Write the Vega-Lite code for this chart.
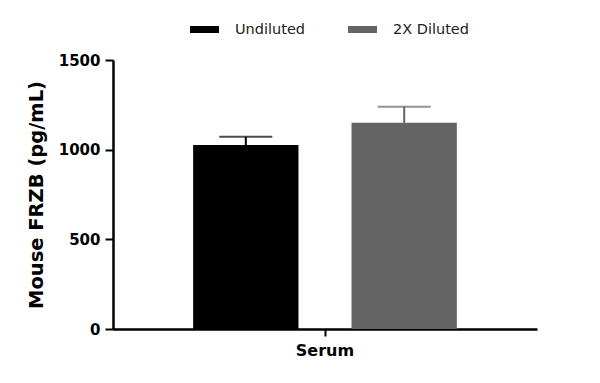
{
  "$schema": "https://vega.github.io/schema/vega-lite/v6.json",
  "width": 424,
  "height": 269,
  "autosize": "none",
  "padding": {"left": 113, "top": 60, "right": 63, "bottom": 54},
  "background": "white",
  "config": {
    "view": {"stroke": null},
    "font": "DejaVu Sans"
  },
  "data": {
    "values": [
      {"sample": "Serum", "group": "Undiluted", "value": 1026, "upper": 1072},
      {"sample": "Serum", "group": "2X Diluted", "value": 1150, "upper": 1240}
    ]
  },
  "encoding": {
    "x": {
      "field": "sample",
      "type": "nominal",
      "scale": {"paddingInner": 0, "paddingOuter": 0},
      "axis": {
        "title": null,
        "labelAngle": 0,
        "labelFont": "DejaVu Sans",
        "labelFontWeight": "bold",
        "labelFontSize": 16,
        "labelColor": "#000",
        "labelPadding": 6,
        "tickSize": 7,
        "tickWidth": 2,
        "tickColor": "#000",
        "domainColor": "#000",
        "domainWidth": 2.5
      }
    },
    "xOffset": {
      "field": "group",
      "type": "nominal",
      "sort": ["Undiluted", "2X Diluted"],
      "scale": {"paddingInner": 0.335, "paddingOuter": 0.506}
    },
    "color": {
      "field": "group",
      "type": "nominal",
      "sort": ["Undiluted", "2X Diluted"],
      "scale": {"domain": ["Undiluted", "2X Diluted"], "range": ["#000000", "#646464"]},
      "legend": {
        "title": null,
        "orient": "none",
        "direction": "horizontal",
        "legendX": 77,
        "legendY": -45,
        "padding": 0,
        "symbolType": "M-1,-0.24H1V0.24H-1Z",
        "symbolSize": 841,
        "symbolStrokeWidth": 0,
        "symbolOpacity": 1,
        "labelFont": "DejaVu Sans",
        "labelFontSize": 14.5,
        "labelColor": "#222",
        "labelOffset": 16,
        "columnPadding": 42
      }
    }
  },
  "layer": [
    {
      "mark": {"type": "bar", "opacity": 1},
      "encoding": {
        "y": {
          "field": "value",
          "type": "quantitative",
          "scale": {"domain": [0, 1500], "nice": false},
          "axis": {
            "title": "Mouse FRZB (pg/mL)",
            "titleFont": "DejaVu Sans",
            "titleFontSize": 19.5,
            "titleFontWeight": "bold",
            "titleColor": "#000",
            "titlePadding": 12,
            "values": [0, 500, 1000, 1500],
            "format": "d",
            "grid": false,
            "labelFont": "DejaVu Sans",
            "labelFontWeight": "bold",
            "labelFontSize": 15,
            "labelColor": "#000",
            "labelPadding": 5,
            "tickSize": 8,
            "tickWidth": 2,
            "tickColor": "#000",
            "domainColor": "#000",
            "domainWidth": 2.5
          }
        }
      }
    },
    {
      "mark": {"type": "rule", "strokeWidth": 2},
      "encoding": {
        "y": {"field": "value", "type": "quantitative"},
        "y2": {"field": "upper"}
      }
    },
    {
      "mark": {"type": "tick", "size": 53, "thickness": 2},
      "encoding": {
        "y": {"field": "upper", "type": "quantitative"}
      }
    }
  ]
}
